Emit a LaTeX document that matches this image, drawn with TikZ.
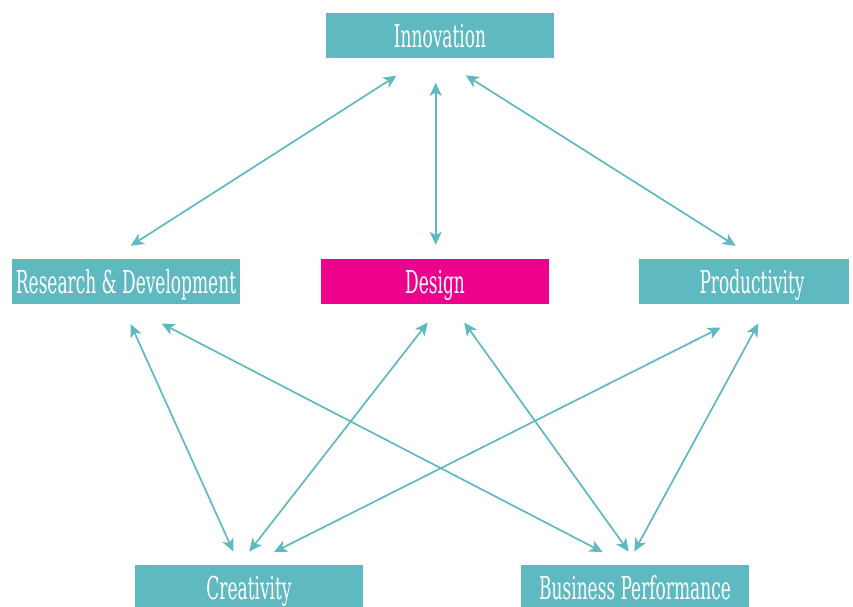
\documentclass[tikz,border=0pt]{standalone}
\usepackage{fontspec}
\setmainfont{DejaVu Serif Condensed}[FakeStretch=0.6]
\usetikzlibrary{arrows.meta,calc}
\definecolor{teal}{HTML}{5FB9C1}
\definecolor{magenta}{HTML}{EC008C}
\tikzset{
  box/.style={fill=teal, text=white, minimum width=228pt, minimum height=45pt,
    inner sep=0pt, text height=23pt, text depth=0pt, font=\fontsize{31.5pt}{33pt}\selectfont},
  hot/.style={box, fill=magenta},
  link/.style={draw=teal, line width=1.7pt,
    {Stealth[length=13pt,width=12pt,inset=3.5pt]}-{Stealth[length=13pt,width=12pt,inset=3.5pt]}}
}
\begin{document}
\begin{tikzpicture}[x=1pt,y=-1pt]
\useasboundingbox (0,0) rectangle (853,606);
\clip (0,0) rectangle (853,606);

% boxes
\node[box] (inno) at (440,35.5) {Innovation};
\node[box] (rd)   at (126,281.5) {Research \& Development};
\node[hot] (des)  at (435,281.5) {Design};
\node[box, minimum width=210pt] (prod) at (744,281.5) {\hspace*{16pt}Productivity};
\node[box] (cre)  at (249,587.5) {Creativity};
\node[box] (bp)   at (635,587.5) {Business Performance};

% links between the top and the middle row
\draw[link] ($(inno.south)+(-43.5,17.5)$) -- ($(rd.north)+(4.7,-13)$);
\draw[link] ($(inno.south)+(-4.3,24.7)$) -- ($(des.north)+(0.7,-14)$);
\draw[link] ($(inno.south)+(25.7,17)$) -- ($(prod.north)+(-8.3,-13)$);

% links between the middle and the bottom row
\draw[link] ($(rd.south)+(4.7,20)$) -- ($(cre.north)+(-15.7,-13.3)$);
\draw[link] ($(rd.south)+(35.7,19.3)$) -- ($(bp.north)+(-32.3,-12.7)$);
\draw[link] ($(des.south)+(-7.3,18.3)$) -- ($(cre.north)+(0.3,-13.3)$);
\draw[link] ($(des.south)+(29.3,18.3)$) -- ($(bp.north)+(-6.3,-13.3)$);
\draw[link] ($(prod.south)+(-23.3,23.3)$) -- ($(cre.north)+(25,-12.7)$);
\draw[link] ($(prod.south)+(14.3,19.3)$) -- ($(bp.north)+(-0.7,-13.3)$);
\end{tikzpicture}
\end{document}
